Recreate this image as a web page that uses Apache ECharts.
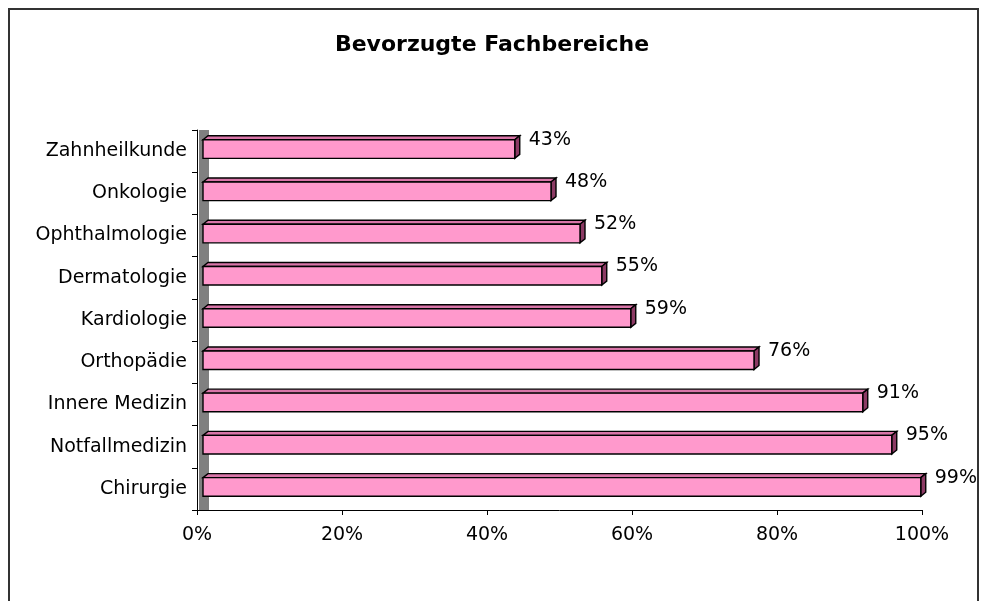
<!DOCTYPE html>
<html>
<head>
<meta charset="utf-8">
<script src="https://cdn.jsdelivr.net/npm/echarts@6/dist/echarts.min.js"></script>
<style>html,body{margin:0;padding:0;background:#fff;}#chart{width:984px;height:601px;}</style>
</head>
<body>
<div id="chart"></div>
<script>
const titleText = 'Bevorzugte Fachbereiche';
const categories = ['Zahnheilkunde','Onkologie','Ophthalmologie','Dermatologie','Kardiologie','Orthopädie','Innere Medizin','Notfallmedizin','Chirurgie'];
const values = [43, 48, 52, 55, 59, 76, 91, 95, 99];
const xTicks = [0, 20, 40, 60, 80, 100];

const font = 'DejaVu Sans';
const chart = echarts.init(document.getElementById('chart'), null, {renderer: 'canvas'});

function renderItem(params, api) {
  const v = api.value(0);
  const c = api.value(1);
  const p0 = api.coord([0, c]);
  const p1 = api.coord([v, c]);
  const band = api.size([0, 1])[1];
  const h = band * 0.44;
  const sx = 6, dx = 5, dy = 4;
  const x0 = p0[0] + sx, x1 = p1[0] + sx;
  const yc = p0[1] - 2;
  const top = yc - h / 2, bot = yc + h / 2;
  const stroke = {stroke: '#000', lineWidth: 1.4};
  return {
    type: 'group',
    children: [
      {type: 'polygon', shape: {points: [[x0, top], [x0 + dx, top - dy], [x1 + dx, top - dy], [x1, top]]},
       style: Object.assign({fill: '#d975a8'}, stroke)},
      {type: 'polygon', shape: {points: [[x1, top], [x1 + dx, top - dy], [x1 + dx, bot - dy], [x1, bot]]},
       style: Object.assign({fill: '#8c3a64'}, stroke)},
      {type: 'rect', shape: {x: x0, y: top, width: x1 - x0, height: h},
       style: Object.assign({fill: '#ff99cc'}, stroke)},
      {type: 'text', x: x1 + dx + 9, y: top,
       style: {text: v + '%', fill: '#000', font: '19px "' + font + '"', verticalAlign: 'middle', align: 'left'}}
    ]
  };
}

const option = {
  animation: false,
  backgroundColor: '#fff',
  title: {
    text: titleText,
    left: 'center',
    top: 34,
    padding: 0,
    textStyle: {fontFamily: font, fontWeight: 'bold', fontSize: 22, color: '#000'}
  },
  graphic: [{
    type: 'rect', z: 100,
    shape: {x: 9, y: 9, width: 969, height: 620},
    style: {fill: 'none', stroke: '#333', lineWidth: 2}
  }],
  grid: {left: 197, right: 62, top: 130, bottom: 91, containLabel: false},
  xAxis: {
    type: 'value', min: 0, max: 100, interval: 20,
    axisLine: {show: true, lineStyle: {color: '#000', width: 1}},
    axisTick: {show: true, length: 5, lineStyle: {color: '#000'}},
    splitLine: {show: false},
    axisLabel: {margin: 16, fontFamily: font, fontSize: 19, color: '#000',
      formatter: function (v) { return xTicks.indexOf(v) >= 0 ? v + '%' : ''; }}
  },
  yAxis: [{
    type: 'category', data: categories, inverse: true, position: 'left',
    axisLine: {show: true, lineStyle: {color: '#000', width: 1}},
    axisTick: {show: true, length: 5, lineStyle: {color: '#000'}},
    axisLabel: {margin: 10, fontFamily: font, fontSize: 19, color: '#000'}
  }, {
    type: 'category', data: categories, inverse: true, position: 'left', offset: -7,
    axisLine: {show: true, lineStyle: {color: '#808080', width: 10, cap: 'butt'}},
    axisTick: {show: false},
    axisLabel: {show: false}
  }],
  series: [{
    type: 'custom',
    renderItem: renderItem,
    encode: {x: 0, y: 1},
    data: values.map(function (v, i) { return [v, i]; })
  }]
};
chart.setOption(option);
</script>
</body>
</html>
